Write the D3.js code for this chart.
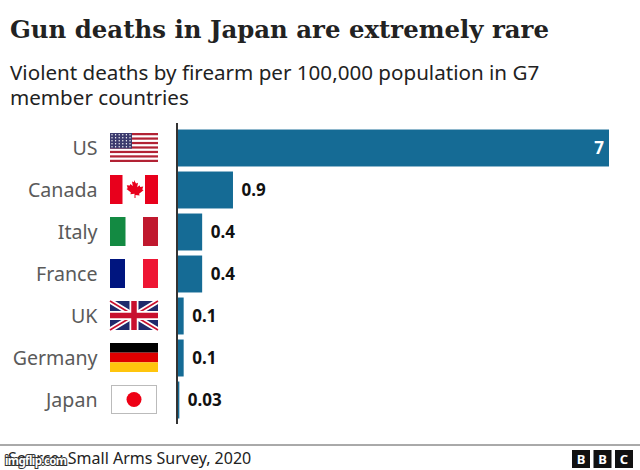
<!DOCTYPE html>
<html>
<head>
<meta charset="utf-8">
<script src="https://cdn.jsdelivr.net/npm/d3@7"></script>
<style>
  html, body { margin: 0; padding: 0; background: #fff; }
  svg { display: block; }
  text { font-family: "Noto Sans", sans-serif; }
</style>
</head>
<body>
<svg id="chart" width="640" height="470"></svg>
<script>
const countries = ["US", "Canada", "Italy", "France", "UK", "Germany", "Japan"];
const rates = [7, 0.9, 0.4, 0.4, 0.1, 0.1, 0.03];
const rateLabels = ["7", "0.9", "0.4", "0.4", "0.1", "0.1", "0.03"];

const width = 640;
const height = 470;
const margin = { top: 127, right: 31, bottom: 50, left: 177.5 };
const barColor = "#156b95";

const svg = d3.select("#chart");
svg.append("rect").attr("width", width).attr("height", height).attr("fill", "#fff");

// Title and subtitle
svg.append("text")
  .attr("x", 10).attr("y", 38)
  .style("font-family", "'DejaVu Serif', serif")
  .style("font-size", "24.4px")
  .style("font-weight", "bold")
  .attr("fill", "#222")
  .text("Gun deaths in Japan are extremely rare");

svg.append("text")
  .attr("x", 10).attr("y", 80)
  .style("font-size", "20.6px")
  .attr("fill", "#222")
  .text("Violent deaths by firearm per 100,000 population in G7");

svg.append("text")
  .attr("x", 10).attr("y", 105)
  .style("font-size", "20.6px")
  .attr("fill", "#222")
  .text("member countries");

// Scales
const x = d3.scaleLinear().domain([0, 7]).range([margin.left, width - margin.right]);
const y = d3.scaleBand()
  .domain(countries)
  .range([margin.top, height - margin.bottom + 1])
  .paddingInner(0.12)
  .paddingOuter(0.06);

// Bars
svg.selectAll("rect.bar")
  .data(countries)
  .enter()
  .append("rect")
  .attr("class", "bar")
  .attr("x", x(0))
  .attr("y", (d) => y(d))
  .attr("width", (d, i) => x(rates[i]) - x(0))
  .attr("height", y.bandwidth())
  .attr("fill", barColor);

// Value labels
svg.selectAll("text.value")
  .data(countries)
  .enter()
  .append("text")
  .attr("class", "value")
  .attr("x", (d, i) => (i === 0 ? x(rates[i]) - 5 : x(rates[i]) + 8.5))
  .attr("y", (d) => y(d) + y.bandwidth() / 2 + 6)
  .attr("text-anchor", (d, i) => (i === 0 ? "end" : "start"))
  .attr("fill", (d, i) => (i === 0 ? "#fff" : "#111"))
  .style("font-size", "17px")
  .style("font-weight", "bold")
  .text((d, i) => rateLabels[i]);

// Category axis
const yAxis = svg.append("g")
  .attr("transform", `translate(${x(0) - 1},0)`)
  .call(d3.axisLeft(y).tickSize(0).tickPadding(0));
yAxis.select(".domain").remove();
yAxis.selectAll("text")
  .attr("x", -79)
  .attr("dy", "0.35em")
  .style("font-family", "'Noto Sans', sans-serif")
  .style("font-size", "19.6px")
  .attr("fill", "#5a5a5a");

svg.append("line")
  .attr("x1", x(0) - 0.5).attr("x2", x(0) - 0.5)
  .attr("y1", 123).attr("y2", 424)
  .attr("stroke", "#333")
  .attr("stroke-width", 2);

// Flags
const flagX = 110;
const flagW = 48;
const flags = {
  US(g, h) {
    const stripeH = h / 13;
    g.append("rect").attr("width", flagW).attr("height", h).attr("fill", "#fff");
    d3.range(0, 13, 2).forEach((i) => {
      g.append("rect").attr("y", i * stripeH).attr("width", flagW).attr("height", stripeH).attr("fill", "#b22234");
    });
    g.append("rect").attr("width", 22).attr("height", stripeH * 7).attr("fill", "#3c3b6e");
    d3.range(5).forEach((r) => {
      d3.range(6).forEach((c) => {
        g.append("circle")
          .attr("cx", 2 + c * 3.6).attr("cy", 1.8 + r * 3)
          .attr("r", 0.7).attr("fill", "#fff");
      });
    });
  },
  Canada(g, h) {
    g.append("rect").attr("width", 12.5).attr("height", h).attr("fill", "#e8001c");
    g.append("rect").attr("x", 35).attr("width", 13).attr("height", h).attr("fill", "#e8001c");
    g.append("path")
      .attr("d", "M24 5l2 3.5 2-.8-.8 4.6 2.4-2 .6 1.6 3-.4-.9 3 1.2.8-4.4 3.4.5 1.8-4.1-.5V23h-1v-4.3l-4.1.5.5-1.8-4.4-3.4 1.2-.8-.9-3 3 .4.6-1.6 2.4 2-.8-4.6 2 .8z")
      .attr("fill", "#e8001c");
  },
  Italy(g, h) {
    g.append("rect").attr("width", 15.5).attr("height", h).attr("fill", "#138a42");
    g.append("rect").attr("x", 33).attr("width", 15).attr("height", h).attr("fill", "#c0182e");
  },
  France(g, h) {
    g.append("rect").attr("width", 15).attr("height", h).attr("fill", "#00157f");
    g.append("rect").attr("x", 33).attr("width", 15).attr("height", h).attr("fill", "#ee1533");
  },
  UK(g, h) {
    g.append("rect").attr("width", flagW).attr("height", h).attr("fill", "#1f2a6b");
    g.append("path").attr("d", `M0 0L${flagW} ${h}M${flagW} 0L0 ${h}`).attr("stroke", "#fff").attr("stroke-width", 5);
    g.append("path").attr("d", `M0 0L${flagW} ${h}M${flagW} 0L0 ${h}`).attr("stroke", "#c8102e").attr("stroke-width", 1.6);
    g.append("path").attr("d", `M${flagW / 2} 0V${h}M0 ${h / 2}H${flagW}`).attr("stroke", "#fff").attr("stroke-width", 9);
    g.append("path").attr("d", `M${flagW / 2} 0V${h}M0 ${h / 2}H${flagW}`).attr("stroke", "#c8102e").attr("stroke-width", 5.5);
  },
  Germany(g, h) {
    ["#000", "#dd0000", "#ffc50d"].forEach((c, i) => {
      g.append("rect").attr("y", (i * h) / 3).attr("width", flagW).attr("height", h / 3).attr("fill", c);
    });
  },
  Japan(g, h) {
    g.append("rect")
      .attr("x", 1.5).attr("y", 0.5)
      .attr("width", flagW - 3).attr("height", h - 1)
      .attr("fill", "#fff").attr("stroke", "#bbb");
    g.append("circle").attr("cx", flagW / 2).attr("cy", h / 2).attr("r", 7.5).attr("fill", "#ee0015");
  },
};

countries.forEach((name) => {
  const h = 29;
  const g = svg.append("g")
    .attr("transform", `translate(${flagX},${y(name) + y.bandwidth() / 2 - h / 2 - 0.5})`);
  flags[name](g, h);
});

// Footer
svg.append("line")
  .attr("x1", 0).attr("x2", width)
  .attr("y1", 445).attr("y2", 445)
  .attr("stroke", "#555")
  .attr("stroke-width", 1);

svg.append("text")
  .attr("x", 8).attr("y", 464)
  .style("font-size", "16px")
  .attr("fill", "#222")
  .text("Source: Small Arms Survey, 2020");

const bbcLetters = ["B", "B", "C"];
const bbc = svg.selectAll("g.bbc")
  .data(bbcLetters)
  .enter()
  .append("g")
  .attr("class", "bbc")
  .attr("transform", (d, i) => `translate(${572 + i * 21.5},450)`);
bbc.append("rect").attr("width", 18).attr("height", 18).attr("fill", "#111");
bbc.append("text")
  .attr("x", 9).attr("y", 14)
  .attr("text-anchor", "middle")
  .attr("fill", "#fff")
  .style("font-size", "13px")
  .style("font-weight", "bold")
  .text((d) => d);

// Watermark sitting over the source line
svg.append("text")
  .attr("x", 5).attr("y", 465)
  .style("font-size", "11.5px")
  .style("font-weight", "bold")
  .style("letter-spacing", "-0.6px")
  .attr("fill", "#fff")
  .attr("stroke", "#333")
  .attr("stroke-width", 2)
  .attr("paint-order", "stroke")
  .text("imgflip.com");
</script>
</body>
</html>
